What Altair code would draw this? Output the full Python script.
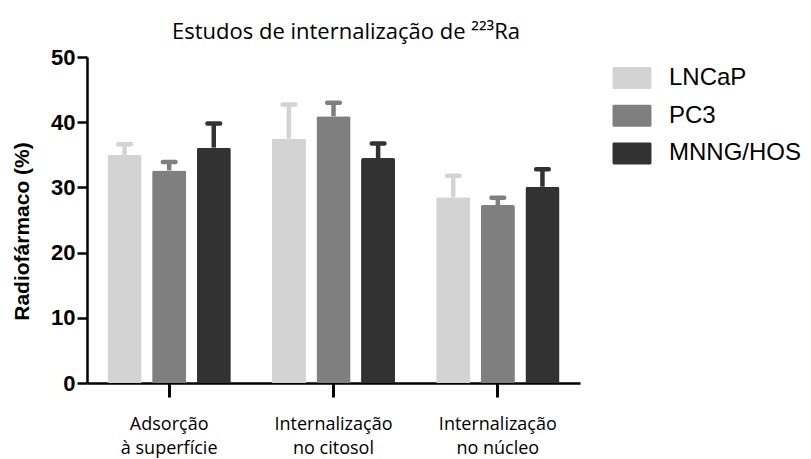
import altair as alt
import pandas as pd

categories = ["Adsorção à superfície", "Internalização no citosol", "Internalização no núcleo"]
cell_lines = ["LNCaP", "PC3", "MNNG/HOS"]
colors = ["#d3d3d3", "#7f7f7f", "#323232"]

lncap_mean = [35.0, 37.5, 28.5]
lncap_upper = [36.6, 42.7, 31.8]
pc3_mean = [32.6, 40.9, 27.3]
pc3_upper = [33.9, 43.0, 28.4]
mnng_mean = [36.1, 34.5, 30.1]
mnng_upper = [39.8, 36.75, 32.8]

means = [lncap_mean, pc3_mean, mnng_mean]
uppers = [lncap_upper, pc3_upper, mnng_upper]

rows = []
for ci, cell in enumerate(cell_lines):
    for gi, cat in enumerate(categories):
        rows.append({"category": cat, "cell": cell,
                     "value": means[ci][gi], "upper": uppers[ci][gi]})
df = pd.DataFrame(rows)

label_expr = ("[slice(datum.label, 0, indexof(datum.label, ' ')), "
              "slice(datum.label, indexof(datum.label, ' ') + 1)]")

x_enc = alt.X("category:N", sort=categories,
              scale=alt.Scale(paddingInner=0, paddingOuter=0),
              axis=alt.Axis(title=None, labelAngle=0, labelExpr=label_expr,
                            labelFont="Open Sans", labelFontSize=18, labelColor="black",
                            labelLineHeight=24, labelPadding=18, labelBaseline="top",
                            domainColor="black", domainWidth=2.5,
                            tickColor="black", tickWidth=3, tickSize=14))
xoff_enc = alt.XOffset("cell:N", sort=cell_lines,
                       scale=alt.Scale(paddingInner=0.236, paddingOuter=0.46))
color_scale = alt.Scale(domain=cell_lines, range=colors)

base = alt.Chart(df).encode(x=x_enc, xOffset=xoff_enc)

legend_shape = ("M-1.65,-1H1.65Q1.77,-1 1.77,-0.88V0.88Q1.77,1 1.65,1"
                "H-1.65Q-1.77,1 -1.77,0.88V-0.88Q-1.77,-1 -1.65,-1Z")

bars = base.mark_bar(cornerRadiusTopLeft=2, cornerRadiusTopRight=2).encode(
    y=alt.Y("value:Q", scale=alt.Scale(domain=[0, 50], nice=False),
            axis=alt.Axis(values=[0, 10, 20, 30, 40, 50], grid=False,
                          title="Radiofármaco (%)",
                          titleFont="Liberation Sans", titleFontSize=21,
                          titleFontWeight="bold", titleColor="black",
                          titleX=-58.5, titleY=174, titleAlign="center",
                          titleBaseline="alphabetic", titleAngle=270,
                          labelFont="Liberation Sans", labelFontSize=22,
                          labelFontWeight="bold", labelColor="black",
                          labelPadding=2, labelFlush=False,
                          domainColor="black", domainWidth=2.5,
                          tickColor="black", tickWidth=2.5, tickSize=10)),
    color=alt.Color("cell:N", sort=cell_lines, scale=color_scale,
                    legend=alt.Legend(title=None, orient="none",
                                      legendX=533, legendY=9,
                                      symbolType=legend_shape, symbolSize=484,
                                      symbolStrokeWidth=0, symbolOpacity=1,
                                      labelFont="Liberation Sans", labelFontSize=24,
                                      labelColor="black", labelOffset=25,
                                      rowPadding=13.7, padding=0)),
)

rules = base.mark_rule(strokeWidth=4.5).encode(
    y=alt.Y("value:Q"),
    y2=alt.Y2("upper:Q"),
    color=alt.Color("cell:N", sort=cell_lines, scale=color_scale, legend=None),
)

caps = base.mark_tick(orient="horizontal", size=17, thickness=4.5, cornerRadius=2,
                      opacity=1).encode(
    y=alt.Y("upper:Q"),
    color=alt.Color("cell:N", sort=cell_lines, scale=color_scale, legend=None),
)

chart = alt.layer(bars, rules, caps).properties(
    width=493, height=326,
    autosize=alt.AutoSizeParams(type="none"),
    padding={"left": 79, "top": 49, "right": 223, "bottom": 76},
    title=alt.TitleParams(text="Estudos de internalização de ²²³Ra",
                          font="Open Sans", fontSize=22, fontWeight="normal",
                          color="black", anchor="middle", frame="group",
                          baseline="alphabetic", offset=18, dx=12.5, dy=33),
).configure_view(stroke=None)

chart.save("out.html", embed_options={"renderer": "svg", "actions": False})
